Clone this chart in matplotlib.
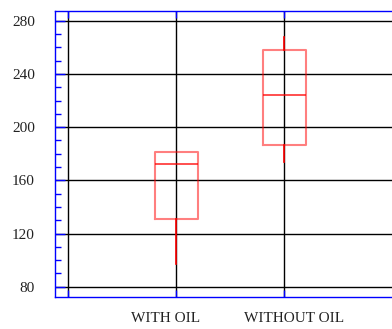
import matplotlib
matplotlib.use("Agg")
import matplotlib.pyplot as plt
from matplotlib.ticker import MultipleLocator
from matplotlib.transforms import ScaledTranslation

# Summary statistics for each group
categories = ["WITH OIL", "WITHOUT OIL"]
q1 = [131, 186.5]
median = [172.5, 224]
q3 = [181, 258]
whisker_low = [97, 174]
whisker_high = [181, 268]

y_ticks = [80, 120, 160, 200, 240, 280]

plt.rcParams["font.family"] = ["Liberation Serif", "DejaVu Serif"]

fig = plt.figure(figsize=(3.92, 3.29), dpi=100)
ax = fig.add_axes([55 / 392, 1 - 297 / 329, 1 - 55 / 392 + 0.01, (297 - 10.5) / 329])

stats = []
for i, name in enumerate(categories):
    stats.append(dict(label=name, q1=q1[i], med=median[i], q3=q3[i],
                      whislo=whisker_low[i], whishi=whisker_high[i], fliers=[]))

positions = [1, 2]
ax.bxp(stats, positions=positions, widths=0.4, showcaps=False, showfliers=False,
       boxprops=dict(color=(1, 0, 0, 0.5), linewidth=1.5),
       medianprops=dict(color=(1, 0, 0, 0.75), linewidth=1.3),
       whiskerprops=dict(color="red", linewidth=1.2),
       zorder=3)

ax.set_xlim(-0.121, 3.03)
ax.set_ylim(72.3, 287.7)

ax.set_xticks([0, 1, 2, 3])
ax.set_xticklabels(["", categories[0], categories[1], ""])
ax.set_yticks(y_ticks)
ax.yaxis.set_minor_locator(MultipleLocator(10))

ax.grid(True, which="major", color="black", linewidth=1.0, zorder=1)
ax.set_axisbelow(True)

for s in ["left", "top", "bottom", "right"]:
    ax.spines[s].set_color("blue")
    ax.spines[s].set_linewidth(1.0)

ax.tick_params(axis="y", which="major", direction="in", length=7, color="blue",
               width=1, labelsize=11, pad=14.4, labelcolor="#222222")
ax.tick_params(axis="y", which="minor", direction="in", length=4, color="blue", width=1)
ax.tick_params(axis="x", which="major", direction="in", length=5, color="blue",
               width=1, labelsize=11, pad=10.5, top=True, labelcolor="#222222")

# category labels sit slightly off their tick positions
shifts = {1: -11, 2: 10}
for idx, lab in enumerate(ax.get_xticklabels()):
    if idx in shifts:
        lab.set_transform(lab.get_transform() +
                          ScaledTranslation(shifts[idx] / 100, 0, fig.dpi_scale_trans))

fig.savefig("out.png", dpi=100)
